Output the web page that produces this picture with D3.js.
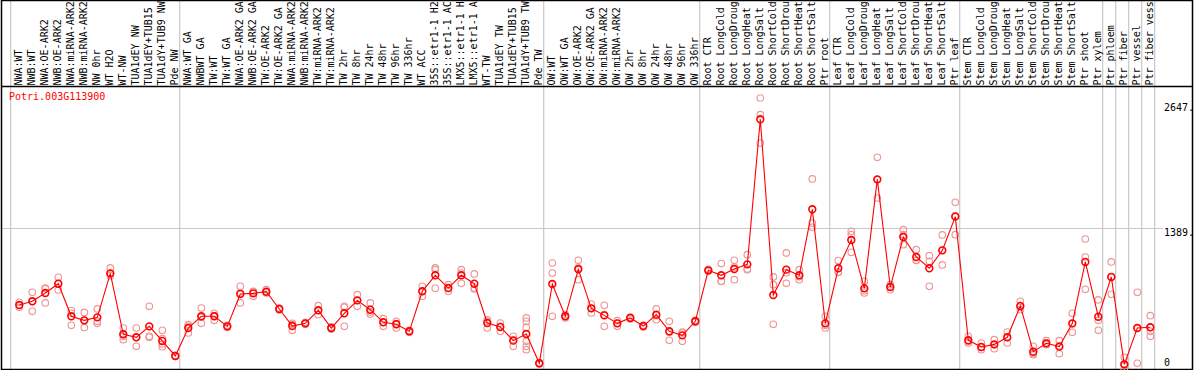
<!DOCTYPE html>
<html>
<head>
<meta charset="utf-8">
<script src="https://cdn.jsdelivr.net/npm/d3@7/dist/d3.min.js"></script>
<style>
  body { margin: 0; background: #fff; }
  svg text { font-family: "DejaVu Sans Mono", monospace; font-size: 10px; }
</style>
</head>
<body>
<svg id="chart" width="1194" height="370"></svg>
<script>
var geneName = "Potri.003G113900";

// header labels, as printed (the header only has room for ~14 characters)
var sampleLabels = [
  "NWA:WT", "NWB:WT", "NWA:OE-ARK2", "NWB:OE-ARK2", "NWA:miRNA-ARK2", "NWB:miRNA-ARK2",
  "NW 0hr", "WT H2O", "WT-NW", "TUA1dEY NW", "TUA1dEY+TUB15", "TUA1dY+TUB9 NW", "Pde NW",
  "NWA:WT GA", "NWBWT GA", "TW:WT", "TW:WT GA", "NWA:OE-ARK2 GA", "NWB:OE-ARK2 GA",
  "TW:OE-ARK2", "TW:OE-ARK2 GA", "NWA:miRNA-ARK2", "NWB:miRNA-ARK2", "TW:miRNA-ARK2",
  "TW:miRNA-ARK2", "TW 2hr", "TW 8hr", "TW 24hr", "TW 48hr", "TW 96hr", "TW 336hr", "WT ACC",
  "35S::etr1-1 H2", "35S::etr1-1 AC", "LMX5::etr1-1 H", "LMX5::etr1-1 A", "WT-TW",
  "TUA1dEY TW", "TUA1dEY+TUB15", "TUA1dY+TUB9 TW", "Pde TW",
  "OW:WT", "OW:WT GA", "OW:OE-ARK2", "OW:OE-ARK2 GA", "OW:miRNA-ARK2", "OW:miRNA-ARK2",
  "OW 2hr", "OW 8hr", "OW 24hr", "OW 48hr", "OW 96hr", "OW 336hr",
  "Root CTR", "Root LongCold", "Root LongDroug", "Root LongHeat", "Root LongSalt",
  "Root ShortCold", "Root ShortDrou", "Root ShortHeat", "Root ShortSalt", "Ptr root",
  "Leaf CTR", "Leaf LongCold", "Leaf LongDroug", "Leaf LongHeat", "Leaf LongSalt",
  "Leaf ShortCold", "Leaf ShortDrou", "Leaf ShortHeat", "Leaf ShortSalt", "Ptr leaf",
  "Stem CTR", "Stem LongCold", "Stem LongDroug", "Stem LongHeat", "Stem LongSalt",
  "Stem ShortCold", "Stem ShortDrou", "Stem ShortHeat", "Stem ShortSalt", "Ptr shoot",
  "Ptr xylem", "Ptr phloem", "Ptr fiber", "Ptr vessel", "Ptr fiber vess"
];

// number of samples in each block separated by grey lines
var groupSizes = [13, 28, 12, 10, 10, 11, 1, 1, 1, 1];

var meanValues = [
  647, 683, 763, 853, 538, 499, 528, 953, 364, 335,
  441, 300, 155, 425, 538, 538, 441, 754, 760, 776,
  609, 444, 470, 596, 425, 567, 692, 602, 480, 461,
  393, 780, 934, 811, 934, 853, 473, 435, 303, 367,
  84, 850, 538, 992, 615, 547, 470, 522, 444, 554,
  393, 354, 490, 982, 934, 995, 1040, 2441, 744, 989,
  934, 1572, 470, 1002, 1275, 808, 1861, 821, 1304, 1111,
  1002, 1175, 1501, 306, 242, 267, 335, 638, 196, 277,
  245, 470, 1063, 534, 918, 74, 425, 432
];

var replicateValues = [
  [673, 647, 625], [770, 683, 586], [805, 667, 811], [915, 792, 853], [593, 451, 567],
  [576, 431, 499], [609, 470, 490], [1005, 931, 953], [425, 312, 345], [425, 248, 335],
  [634, 345, 335], [403, 322, 270, 245], [155, 150, 160], [457, 377, 441], [618, 470, 528],
  [567, 499, 544], [451, 441, 431], [828, 667, 763], [780, 731, 773], [795, 763, 773],
  [618, 609, 599], [470, 403, 457], [480, 470, 461], [641, 554, 596], [435, 425, 415],
  [634, 441, 625], [747, 634, 692], [667, 560, 580], [515, 441, 480], [490, 425, 467],
  [403, 393, 383], [828, 731, 780], [1005, 808, 989], [844, 780, 811], [989, 857, 956],
  [947, 811, 802], [505, 425, 490], [473, 393, 438], [345, 248, 312], [522, 490, 431, 296, 248, 216],
  [84, 90, 77], [1053, 956, 538], [554, 522, 538], [1079, 892, 1005], [657, 570, 615],
  [644, 441, 554], [496, 441, 470], [531, 522, 512], [451, 435, 447], [609, 505, 544],
  [490, 306, 383], [377, 296, 386], [499, 490, 480], [992, 982, 973], [1047, 876, 876],
  [1079, 892, 1014], [1133, 989, 995], [2647, 2486, 2212], [918, 844, 461], [1150, 857, 960],
  [989, 892, 921], [1865, 1439, 1398], [538, 425, 451], [1076, 966, 963], [1359, 1327, 1156],
  [876, 763, 786], [2074, 1681, 1858], [844, 795, 821], [1375, 1230, 1327], [1182, 1079, 1079],
  [1124, 1069, 828], [1324, 1034, 1175], [1639, 1327, 1510], [345, 280, 296], [280, 216, 238],
  [312, 225, 264], [386, 280, 335], [683, 602, 628], [248, 167, 177], [303, 264, 280],
  [303, 177, 254], [567, 383, 467], [1285, 1111, 799], [696, 403, 499], [1063, 750, 918],
  [142, 60, 20], [770, 84, 425], [544, 393, 345, 432]
];

var tickValues = [2647, 1389, 0];
var tickLabels = ["2647.", "1389.", "0"];

var svg = d3.select("#chart"),
    width = +svg.attr("width"),
    height = +svg.attr("height");

var colWidth = 13;
var left = 10.7;
var headerBottom = 86.5;
var bottom = 369.5;

var x = d3.scaleBand()
    .domain(d3.range(sampleLabels.length))
    .range([left, left + colWidth * sampleLabels.length]);

var y = d3.scaleLinear()
    .domain([0, 2647])
    .range([372, 98]);

function px(i) { return x(i) + 8.6; }

svg.append("rect")
    .attr("width", width)
    .attr("height", height)
    .attr("fill", "#fff");

// grey separators between sample blocks
var boundaries = [0];
groupSizes.forEach(function(n) { boundaries.push(boundaries[boundaries.length - 1] + n); });

svg.selectAll("line.sep")
    .data(boundaries)
    .enter()
    .append("line")
    .attr("class", "sep")
    .attr("x1", function(d) { return x(0) + d * x.bandwidth(); })
    .attr("x2", function(d) { return x(0) + d * x.bandwidth(); })
    .attr("y1", 0)
    .attr("y2", bottom)
    .attr("stroke", "#c8c8c8")
    .attr("stroke-width", 1.2);

// horizontal guide at middle tick
svg.append("line")
    .attr("x1", 1.5)
    .attr("x2", 1163)
    .attr("y1", Math.round(y(1389)) + 0.5)
    .attr("y2", Math.round(y(1389)) + 0.5)
    .attr("stroke", "#c8c8c8")
    .attr("stroke-width", 1.2);

// rotated sample labels in the header
svg.selectAll("text.sample")
    .data(sampleLabels)
    .enter()
    .append("text")
    .attr("class", "sample")
    .attr("fill", "#000")
    .attr("transform", function(d, i) { return "translate(" + (x(i) + 10.8) + "," + 85.5 + ") rotate(-90)"; })
    .text(function(d) { return d; });

// frame + header line
svg.append("rect")
    .attr("x", 1.5)
    .attr("y", 0.5)
    .attr("width", 1191)
    .attr("height", bottom - 0.5)
    .attr("fill", "none")
    .attr("stroke", "#000")
    .attr("stroke-width", 1.5);

svg.append("line")
    .attr("x1", 1.5)
    .attr("x2", 1192.5)
    .attr("y1", headerBottom)
    .attr("y2", headerBottom)
    .attr("stroke", "#000")
    .attr("stroke-width", 1.5);

svg.append("text")
    .attr("x", 9)
    .attr("y", 100)
    .attr("fill", "#ff0000")
    .text(geneName);

// right-hand value labels
svg.selectAll("text.tick")
    .data(tickValues)
    .enter()
    .append("text")
    .attr("class", "tick")
    .attr("x", 1164)
    .attr("y", function(d) { return Math.min(Math.max(y(d), 103), 358) + 8; })
    .attr("fill", "#000")
    .text(function(d, i) { return tickLabels[i]; });

// replicate points
var reps = [];
replicateValues.forEach(function(arr, i) {
  arr.forEach(function(v) { reps.push({i: i, v: v}); });
});

svg.selectAll("circle.rep")
    .data(reps)
    .enter()
    .append("circle")
    .attr("class", "rep")
    .attr("cx", function(d) { return px(d.i); })
    .attr("cy", function(d) { return y(d.v); })
    .attr("r", 3.3)
    .attr("fill", "none")
    .attr("stroke", "#ee9494")
    .attr("stroke-width", 1.1);

var meanLine = d3.line()
    .x(function(d, i) { return px(i); })
    .y(function(d) { return y(d); });

svg.append("path")
    .datum(meanValues)
    .attr("fill", "none")
    .attr("stroke", "#ff0000")
    .attr("stroke-width", 1.1)
    .attr("d", meanLine);

svg.selectAll("circle.mean")
    .data(meanValues)
    .enter()
    .append("circle")
    .attr("class", "mean")
    .attr("cx", function(d, i) { return px(i); })
    .attr("cy", function(d) { return y(d); })
    .attr("r", 3.4)
    .attr("fill", "none")
    .attr("stroke", "#ff0000")
    .attr("stroke-width", 1.6);
</script>
</body>
</html>
